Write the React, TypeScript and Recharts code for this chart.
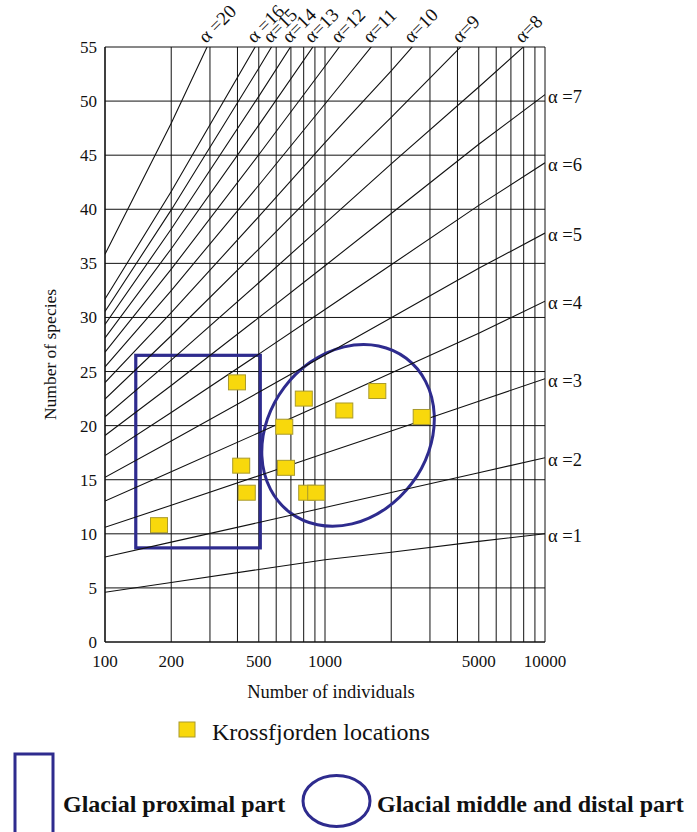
import React from 'react';
import {
  ComposedChart,
  Line,
  Scatter,
  XAxis,
  YAxis,
  CartesianGrid,
  ReferenceArea,
  ReferenceDot,
} from 'recharts';

const FONT = "'Liberation Serif', 'Times New Roman', Times, serif";
const INK = '#111111';
const ZONE = '#2E2B8E';
const YELLOW = '#F8D80C';
const YELLOW_EDGE = '#A99A2C';

// ---------- data ----------
// Number of individuals at which the Fisher alpha isoclines were read
const sampleN = [100, 200, 500, 1000, 2000, 5000, 10000];

// Number of species along each alpha isocline (read at sampleN)
const alpha1 = [4.6, 5.5, 6.7, 7.6, 8.3, 9.3, 10.0];
const alpha2 = [7.86, 9.23, 11.05, 12.43, 13.82, 15.65, 17.03];
const alpha3 = [10.61, 12.64, 15.37, 17.44, 19.51, 22.26, 24.34];
const alpha4 = [13.03, 15.73, 19.34, 22.1, 24.87, 28.53, 31.5];
const alpha5 = [15.22, 18.57, 23.08, 26.52, 29.97, 34.54, 37.8];
const alpha6 = [17.23, 21.22, 26.61, 30.73, 34.87, 40.36, 44.3];
const alpha7 = [19.09, 23.71, 29.98, 34.78, 39.61, 46.01, 50.6];
const alpha8 = [20.82, 26.06, 33.21, 38.69, 44.2, 51.3, 56.8];
const alpha9 = [22.45, 28.31, 36.32, 42.48, 48.5, 56.7];
const alpha10 = [23.98, 30.45, 39.32, 46.15, 52.8, 62.0];
const alpha11 = [25.43, 32.49, 42.22, 49.73, 57.29];
const alpha12 = [26.8, 34.46, 45.04, 53.22, 61.46];
const alpha13 = [28.11, 36.35, 47.78, 56.62];
const alpha14 = [29.36, 38.18, 50.44, 59.96];
const alpha15 = [30.55, 39.94, 53.04, 63.22];
const alpha16 = [31.7, 41.64, 55.58, 66.42];
const alpha20 = [35.84, 47.96, 65.16];

const alphaValues = [1, 2, 3, 4, 5, 6, 7, 8, 9, 10, 11, 12, 13, 14, 15, 16, 20];
const alphaCurves = [
  alpha1, alpha2, alpha3, alpha4, alpha5, alpha6, alpha7, alpha8, alpha9,
  alpha10, alpha11, alpha12, alpha13, alpha14, alpha15, alpha16, alpha20,
];
// label text as printed on the figure
const alphaLabels = [
  'α =1', 'α =2', 'α =3', 'α =4', 'α =5', 'α =6', 'α =7', 'α=8', 'α=9',
  'α=10', 'α=11', 'α=12', 'α=13', 'α=14', 'α=15', 'α =16', 'α =20',
];

// Krossfjorden locations
const siteIndividuals = [176, 398, 416, 441, 653, 665, 801, 830, 912, 1224, 1729, 2751];
const siteSpecies = [10.8, 24.0, 16.3, 13.8, 19.9, 16.1, 22.5, 13.8, 13.8, 21.4, 23.2, 20.8];

// Zones (extent in individuals / species)
const proximalN = [138, 508];
const proximalS = [8.7, 26.5];
const distalN = [516, 3140];
const distalS = [10.7, 27.5];
const distalTiltDeg = 37;

// Axes
const xGridTicks = [
  100, 200, 300, 400, 500, 600, 700, 800, 900,
  1000, 2000, 3000, 4000, 5000, 6000, 7000, 8000, 9000, 10000,
];
const xLabelTicks = [100, 200, 500, 1000, 5000, 10000];
const yTicks = [0, 5, 10, 15, 20, 25, 30, 35, 40, 45, 50, 55];
const X_DOMAIN: [number, number] = [100, 10000];
const Y_DOMAIN: [number, number] = [0, 55];

const legendSites = 'Krossfjorden locations';
const legendProximal = 'Glacial proximal part';
const legendDistal = 'Glacial middle and distal part';

// ---------- derived ----------
const siteData = siteIndividuals.map((n, i) => ({ x: n, y: siteSpecies[i] }));
const curveData = alphaCurves.map((vals) => vals.map((v, i) => ({ x: sampleN[i], y: v })));

type Anchor = { n: number; s: number; side: 'top' | 'right'; text: string };
const anchors: Anchor[] = alphaCurves.map((vals, k) => {
  const yMax = Y_DOMAIN[1];
  const last = vals.length - 1;
  if (vals[last] <= yMax) {
    return { n: sampleN[last], s: vals[last], side: 'right', text: alphaLabels[k] };
  }
  let n = sampleN[last];
  for (let i = 1; i < vals.length; i++) {
    if (vals[i] > yMax) {
      const t = (yMax - vals[i - 1]) / (vals[i] - vals[i - 1]);
      const l0 = Math.log10(sampleN[i - 1]);
      const l1 = Math.log10(sampleN[i]);
      n = Math.pow(10, l0 + t * (l1 - l0));
      break;
    }
  }
  return { n, s: yMax, side: 'top', text: alphaLabels[k] };
});

const SiteSquare = (props: any) => {
  const { cx, cy } = props;
  if (cx == null || cy == null) return <g />;
  return (
    <rect x={cx - 8.5} y={cy - 7.5} width={17} height={15} fill={YELLOW} stroke={YELLOW_EDGE} strokeWidth={1} />
  );
};

const TiltedEllipse = (props: any) => {
  const { x, y, width, height } = props;
  const hw = Math.abs(width) / 2;
  const hh = Math.abs(height) / 2;
  const th = (distalTiltDeg * Math.PI) / 180;
  const sum = hw * hw + hh * hh;
  const diff = (hh * hh - hw * hw) / Math.cos(2 * th);
  const a = Math.sqrt(Math.max((sum + diff) / 2, 1));
  const b = Math.sqrt(Math.max((sum - diff) / 2, 1));
  const cx = Math.min(x, x + width) + hw;
  const cy = Math.min(y, y + height) + hh;
  return (
    <ellipse
      cx={cx}
      cy={cy}
      rx={b}
      ry={a}
      transform={`rotate(${distalTiltDeg} ${cx} ${cy})`}
      fill="none"
      stroke={ZONE}
      strokeWidth={3}
    />
  );
};

const PlainRect = (props: any) => {
  const { x, y, width, height } = props;
  return <rect x={x} y={y} width={width} height={height} fill="none" stroke={ZONE} strokeWidth={3.2} />;
};

const XTitle = (props: any) => {
  const vb = props.viewBox || { x: 105, y: 642, width: 440, height: 30 };
  return (
    <text x={vb.x + vb.width / 2 + 6} y={vb.y + 56} textAnchor="middle" fontFamily={FONT} fontSize={18.5} fill={INK}>
      Number of individuals
    </text>
  );
};

const YTitle = (props: any) => {
  const vb = props.viewBox || { x: 45, y: 47, width: 60, height: 595 };
  const tx = vb.x + 5;
  const ty = vb.y + vb.height / 2 + 10;
  return (
    <text
      x={tx}
      y={ty}
      transform={`rotate(-90 ${tx} ${ty})`}
      textAnchor="middle"
      dominantBaseline="central"
      fontFamily={FONT}
      fontSize={17.5}
      fill={INK}
    >
      Number of species
    </text>
  );
};

export default function App() {
  return (
    <div
      style={{
        position: 'absolute',
        left: 0,
        top: 0,
        width: 697,
        height: 832,
        background: '#fff',
        overflow: 'hidden',
        fontFamily: FONT,
      }}
    >
      <ComposedChart
        width={697}
        height={832}
        margin={{ top: 47, right: 152, left: 45, bottom: 160 }}
        style={{ fontFamily: FONT, overflow: 'visible' }}
      >
        <CartesianGrid stroke={INK} strokeWidth={1} />
        <XAxis
          dataKey="x"
          type="number"
          scale="log"
          domain={X_DOMAIN}
          allowDataOverflow
          ticks={xGridTicks}
          interval={0}
          height={30}
          tickLine={false}
          tickMargin={7}
          axisLine={{ stroke: INK, strokeWidth: 1.2 }}
          tickFormatter={(v: number) => (xLabelTicks.includes(v) ? String(v) : '')}
          tick={{ fontFamily: FONT, fontSize: 17, fill: INK }}
          label={{ content: XTitle }}
        />
        <YAxis
          dataKey="y"
          type="number"
          domain={Y_DOMAIN}
          allowDataOverflow
          ticks={yTicks}
          interval={0}
          width={60}
          tickLine={false}
          axisLine={{ stroke: INK, strokeWidth: 1.2 }}
          tick={{ fontFamily: FONT, fontSize: 17, fill: INK }}
          label={{ content: YTitle }}
        />
        {curveData.map((d, k) => (
          <Line
            key={`alpha-${alphaValues[k]}`}
            data={d}
            dataKey="y"
            type="linear"
            stroke={INK}
            strokeWidth={1.1}
            dot={false}
            activeDot={false}
            isAnimationActive={false}
            legendType="none"
          />
        ))}
        <ReferenceArea
          x1={proximalN[0]}
          x2={proximalN[1]}
          y1={proximalS[0]}
          y2={proximalS[1]}
          ifOverflow="visible"
          shape={PlainRect}
        />
        <ReferenceArea
          x1={distalN[0]}
          x2={distalN[1]}
          y1={distalS[0]}
          y2={distalS[1]}
          ifOverflow="visible"
          shape={TiltedEllipse}
        />
        <Scatter data={siteData} dataKey="y" shape={SiteSquare} isAnimationActive={false} legendType="none" />
        {anchors.map((a) => (
          <ReferenceDot
            key={a.text}
            x={a.n}
            y={a.s}
            r={0}
            ifOverflow="visible"
            shape={(p: any) =>
              a.side === 'top' ? (
                <text
                  x={p.cx - 1}
                  y={p.cy - 3}
                  transform={`rotate(-45 ${p.cx - 1} ${p.cy - 3})`}
                  fontFamily={FONT}
                  fontSize={19}
                  fill={INK}
                >
                  {a.text}
                </text>
              ) : (
                <text
                  x={p.cx + 3}
                  y={p.cy + 2}
                  dominantBaseline="central"
                  fontFamily={FONT}
                  fontSize={18.5}
                  fill={INK}
                >
                  {a.text}
                </text>
              )
            }
          />
        ))}
      </ComposedChart>
      <svg
        width={697}
        height={832}
        style={{ position: 'absolute', left: 0, top: 0, pointerEvents: 'none' }}
      >
        <rect x={179} y={722} width={16} height={15} fill={YELLOW} stroke={YELLOW_EDGE} strokeWidth={1} />
        <text x={212} y={740} fontFamily={FONT} fontSize={24} fill={INK}>
          {legendSites}
        </text>
        <rect x={15} y={754} width={38} height={100} fill="none" stroke={ZONE} strokeWidth={3} />
        <text x={63} y={812} fontFamily={FONT} fontSize={24} fontWeight="bold" fill={INK}>
          {legendProximal}
        </text>
        <ellipse cx={336.5} cy={801} rx={33.5} ry={25.5} fill="none" stroke={ZONE} strokeWidth={3} />
        <text x={377} y={812} fontFamily={FONT} fontSize={24} fontWeight="bold" fill={INK}>
          {legendDistal}
        </text>
      </svg>
    </div>
  );
}
